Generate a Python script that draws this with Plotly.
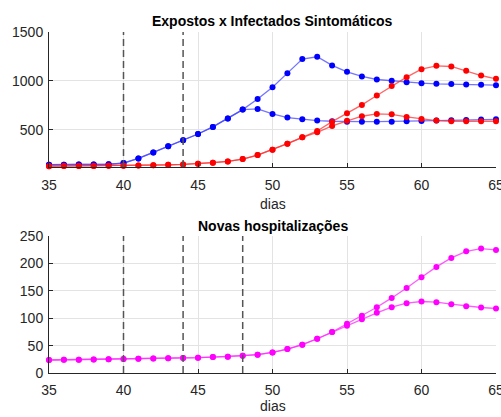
import plotly.graph_objects as go

days = list(range(35, 66))

# Top panel: Expostos (blue) and Infectados sintomáticos (red), two scenarios each
exp_a = [145, 146, 147, 148, 150, 162, 210, 271, 333, 394, 459, 531, 616, 708,
         817, 937, 1080, 1224, 1247, 1159, 1094, 1046, 1015, 1002, 988, 978, 971, 968, 964, 961, 957]
exp_b = [145, 146, 147, 148, 150, 162, 210, 271, 333, 394, 459, 531, 616, 708,
         715, 664, 626, 609, 596, 589, 585, 585, 585, 585, 589, 592, 596, 599, 602, 606, 609]
inf_a = [130, 131, 132, 133, 134, 136, 138, 141, 144, 148, 155, 166, 179, 203,
         244, 299, 360, 425, 490, 585, 671, 756, 852, 950, 1039, 1121, 1155, 1148, 1104, 1056, 1022]
inf_b = [130, 131, 132, 133, 134, 136, 138, 141, 144, 148, 155, 166, 179, 203,
         244, 299, 360, 425, 476, 541, 593, 640, 664, 660, 633, 613, 596, 589, 589, 589, 589]

# Bottom panel: novas hospitalizações, two scenarios
hosp_a = [23.7, 24.0, 24.3, 24.6, 25.0, 25.5, 25.9, 26.3, 26.8, 27.3, 27.9, 29.0, 29.7, 31.6,
          33.4, 37.6, 43.7, 51.6, 62.5, 74.6, 89.8, 104.4, 120, 137, 155, 174.8, 193.6, 210, 222, 227, 224.5]
hosp_b = [23.7, 24.0, 24.3, 24.6, 25.0, 25.5, 25.9, 26.3, 26.8, 27.3, 27.9, 29.0, 29.7, 31.6,
          33.4, 37.6, 43.7, 51.6, 62.5, 74.6, 86.2, 98.3, 109.8, 120, 127.4, 130.5, 129.2, 125.6, 122, 119.5, 117.7]

top_vlines = [40, 44]
bottom_vlines = [40, 44, 48]

x_ticks = [35, 40, 45, 50, 55, 60, 65]
top_yticks = [500, 1000, 1500]
bottom_yticks = [0, 50, 100, 150, 200, 250]

W, H = 501, 417
FONT = "Liberation Sans, Arial, sans-serif"
TXT = "#262626"


def px_x(sx):
    return sx / W


def px_y(sy):
    return 1 - sy / H


fig = go.Figure()


def add_series(y, color, line_color, xa, ya):
    fig.add_trace(go.Scatter(
        x=days, y=y, mode="lines+markers", xaxis=xa, yaxis=ya,
        line=dict(color=line_color, width=1.3),
        marker=dict(color=color, size=6, line=dict(width=0)),
        showlegend=False, hoverinfo="skip", cliponaxis=False))


add_series(exp_a, "#0000ff", "rgba(70,70,255,0.75)", "x", "y")
add_series(exp_b, "#0000ff", "rgba(70,70,255,0.75)", "x", "y")
add_series(inf_a, "#ff0000", "rgba(255,50,50,0.75)", "x", "y")
add_series(inf_b, "#ff0000", "rgba(255,50,50,0.75)", "x", "y")
add_series(hosp_a, "#ff00ff", "rgba(255,50,255,0.8)", "x2", "y2")
add_series(hosp_b, "#ff00ff", "rgba(255,50,255,0.8)", "x2", "y2")

shapes = []
for v in top_vlines:
    shapes.append(dict(type="line", xref="x", yref="y domain", x0=v, x1=v, y0=0, y1=1,
                       line=dict(color="#555555", width=1.5, dash="7px,4px"), layer="above"))
for v in bottom_vlines:
    shapes.append(dict(type="line", xref="x2", yref="y2 domain", x0=v, x1=v, y0=0, y1=1,
                       line=dict(color="#555555", width=1.5, dash="7px,4px"), layer="above"))

L, R = 49, 496
xdom = [px_x(L), px_x(R)]
top_dom = [px_y(167), px_y(32)]
bot_dom = [px_y(373), px_y(236)]

axis_common = dict(
    showgrid=True, gridcolor="#e3e3e3", gridwidth=1,
    showline=True, linecolor=TXT, linewidth=1,
    ticks="inside", ticklen=4, tickcolor=TXT,
    tickfont=dict(family=FONT, size=14, color=TXT),
    zeroline=False, mirror=False, automargin=False,
    ticklabeloverflow="allow",
)

xc = px_x((L + R) / 2)

fig.update_layout(
    template="none",
    width=W, height=H,
    margin=dict(l=0, r=0, t=0, b=0, autoexpand=False),
    paper_bgcolor="white", plot_bgcolor="white",
    xaxis=dict(domain=xdom, anchor="y", range=[35, 65], tickvals=x_ticks,
               ticklabelstandoff=5, **axis_common),
    yaxis=dict(domain=top_dom, anchor="x", range=[122, 1500], tickvals=top_yticks,
               ticklabelstandoff=2, **axis_common),
    xaxis2=dict(domain=xdom, anchor="y2", range=[35, 65], tickvals=x_ticks,
                ticklabelstandoff=4, **axis_common),
    yaxis2=dict(domain=bot_dom, anchor="x2", range=[0, 250], tickvals=bottom_yticks,
                ticklabelstandoff=2, **axis_common),
    shapes=shapes,
    annotations=[
        dict(text="<b>Expostos x Infectados Sintomáticos</b>", xref="paper", yref="paper",
             x=xc, y=px_y(21), showarrow=False, xanchor="center", yanchor="middle",
             font=dict(family=FONT, size=14, color="#000000")),
        dict(text="dias", xref="paper", yref="paper",
             x=xc, y=px_y(204), showarrow=False, xanchor="center", yanchor="middle",
             font=dict(family=FONT, size=14, color=TXT)),
        dict(text="<b>Novas hospitalizações</b>", xref="paper", yref="paper",
             x=xc, y=px_y(226), showarrow=False, xanchor="center", yanchor="middle",
             font=dict(family=FONT, size=14, color="#000000")),
        dict(text="dias", xref="paper", yref="paper",
             x=xc, y=px_y(406), showarrow=False, xanchor="center", yanchor="middle",
             font=dict(family=FONT, size=14, color=TXT)),
    ],
)

fig.write_html("out.html",
               config={"displayModeBar": False},
               post_script="document.body.style.margin='0';document.body.style.overflow='hidden';")
